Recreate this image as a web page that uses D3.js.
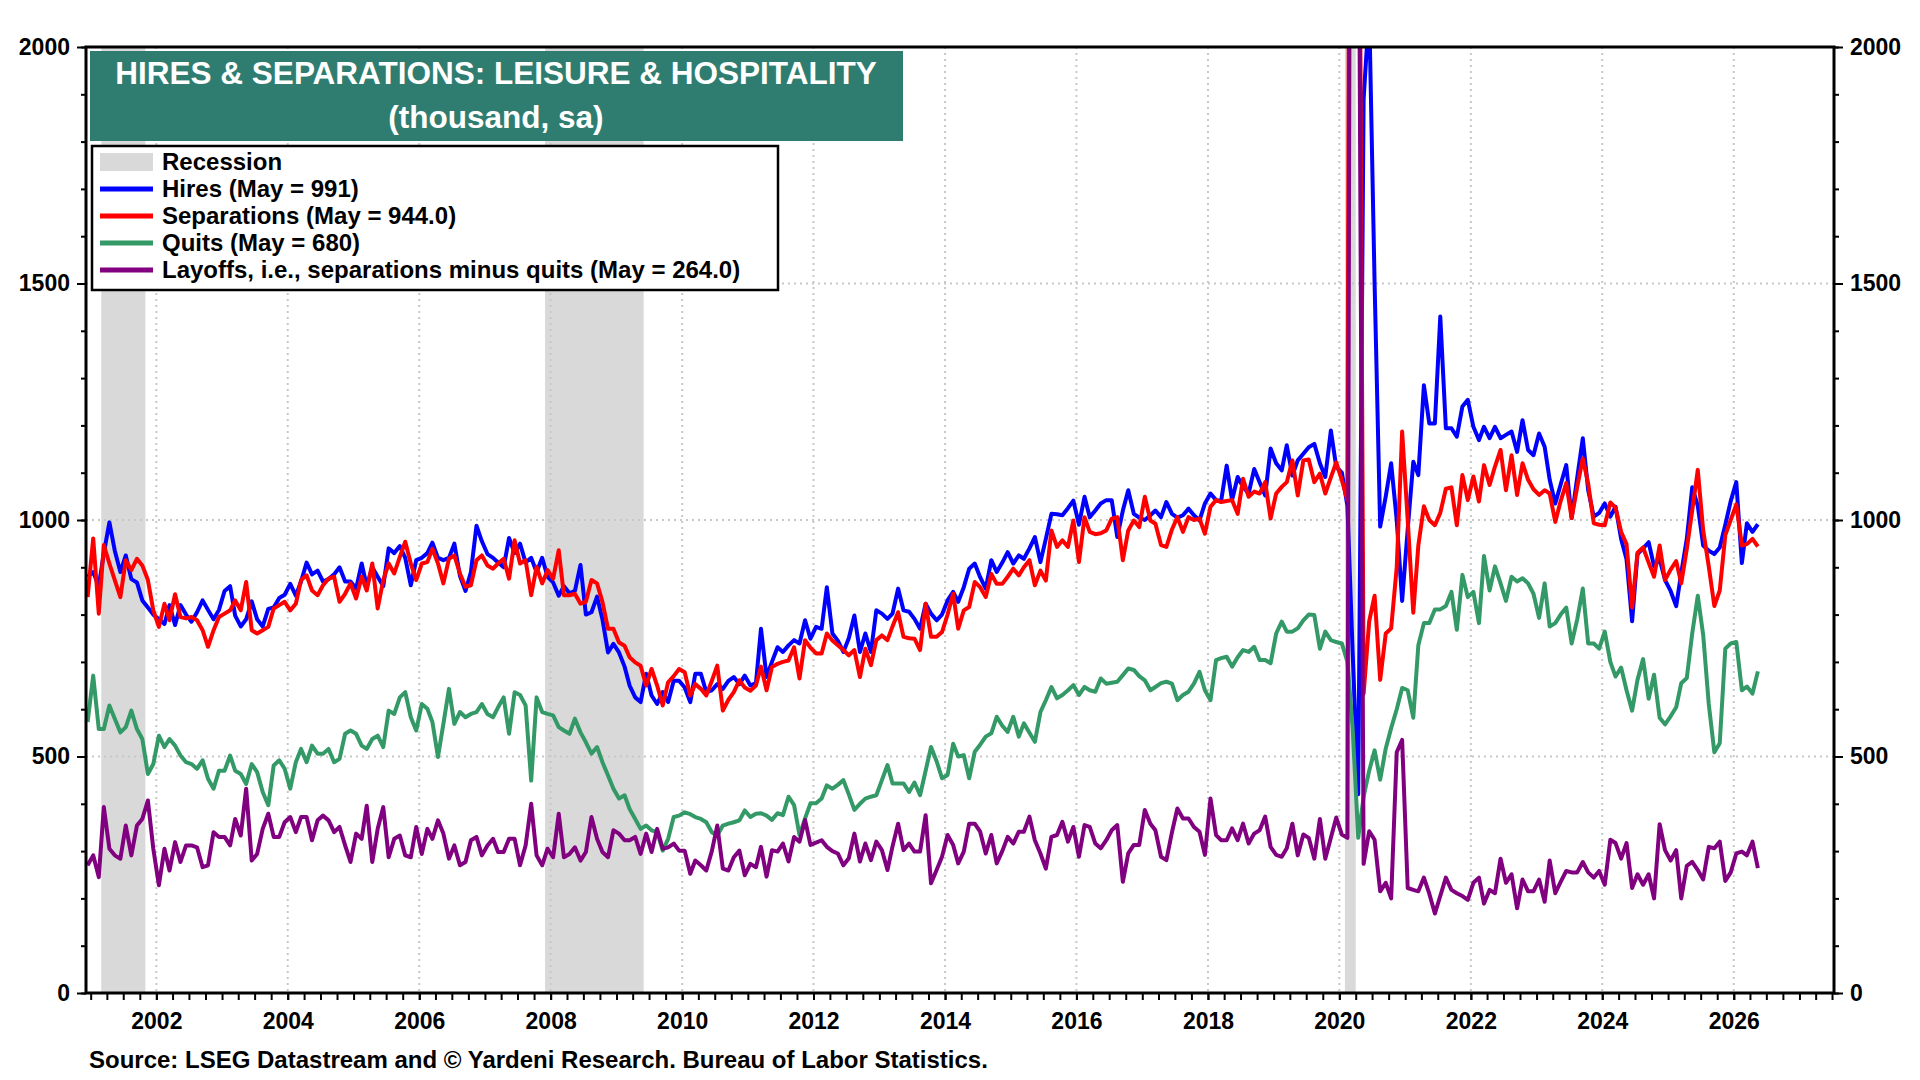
<!DOCTYPE html>
<html>
<head>
<meta charset="utf-8">
<script src="https://cdn.jsdelivr.net/npm/d3@7"></script>
<style>
  body { margin: 0; background: #fff; }
  svg { display: block; }
  text { font-family: "Liberation Sans", Arial, sans-serif; font-weight: bold; }
</style>
</head>
<body>
<svg id="chart" width="1920" height="1080"></svg>
<script>
// monthly data, Dec 2000 .. May 2026 (thousands, sa)
var startMonth = [2000, 11];

var hires = [
  880,
  890, 860, 930, 995, 935, 890, 925, 875, 868, 830, 815, 800,
  790, 780, 820, 778, 820, 800, 785, 805, 830, 810, 790, 810,
  850, 860, 798, 775, 790, 828, 790, 775, 812, 815, 835, 842,
  865, 840, 870, 910, 885, 893, 870, 875, 885, 900, 870, 870,
  855, 908, 860, 900, 880, 860, 940, 930, 945, 920, 862, 915,
  920, 930, 952, 920, 915, 920, 950, 882, 850, 890, 988, 955,
  928, 920, 910, 900, 962, 930, 950, 910, 920, 890, 920, 880,
  868, 840, 860, 845, 850, 905, 800, 805, 838, 790, 720, 738,
  720, 690, 650, 625, 615, 675, 629, 611, 636, 615, 660, 660,
  646, 615, 675, 675, 636, 640, 653, 643, 660, 668, 653, 671,
  650, 655, 770, 668, 700, 731, 721, 735, 746, 739, 788, 749,
  774, 770, 858, 760, 745, 721, 750, 798, 721, 760, 721, 809,
  802, 791, 802, 855, 809, 806, 791, 770, 823, 802, 788, 800,
  830, 848, 827, 858, 897, 908, 879, 855, 915, 890, 910, 932,
  908, 925, 918, 940, 964, 911, 960, 1013, 1012, 1010, 1025, 1041,
  990, 1049, 1006, 1020, 1035, 1042, 1042, 964, 1020, 1063, 1013, 1005,
  1000, 1010, 1020, 1006, 1038, 1013, 1005, 1010, 1024, 1010, 999, 1035,
  1056, 1042, 1040, 1115, 1042, 1091, 1070, 1056, 1108, 1080, 1052, 1151,
  1120, 1105, 1158, 1094, 1126, 1140, 1154, 1161, 1120, 1091, 1189, 1112,
  1100, 1030, 720, 420, 1890, 2080, 1500, 986, 1050, 1120, 1000, 829,
  980, 1123, 1095, 1285, 1204, 1204, 1430, 1194, 1194, 1176, 1240, 1254,
  1197, 1169, 1197, 1173, 1197, 1173, 1180, 1187, 1144, 1211, 1148, 1137,
  1183, 1155, 1085, 1035, 1075, 1116, 1004, 1090, 1173, 1063, 1007, 1015,
  1035, 1007, 1028, 960, 917, 786, 928, 940, 953, 902, 917, 873,
  850, 818, 888, 960, 1069, 1030, 946, 935, 928, 942, 990, 1040,
  1080, 909, 993, 975, 991
];

var separations = [
  837,
  961, 802, 947, 908, 873, 837, 915, 894, 918, 904, 873, 809,
  774, 823, 788, 843, 795, 792, 795, 788, 767, 732, 767, 795,
  802, 809, 830, 809, 869, 767, 760, 767, 774, 813, 820, 827,
  809, 823, 873, 883, 851, 841, 862, 876, 880, 827, 844, 866,
  834, 880, 851, 908, 813, 873, 908, 887, 922, 954, 908, 873,
  908, 911, 939, 908, 866, 918, 925, 887, 859, 862, 915, 925,
  904, 897, 908, 918, 876, 957, 908, 915, 841, 901, 866, 894,
  876, 936, 841, 841, 844, 823, 827, 873, 866, 827, 770, 770,
  741, 734, 710, 699, 692, 650, 685, 650, 608, 657, 670, 685,
  678, 629, 653, 643, 629, 660, 692, 597, 620, 636, 661, 646,
  639, 650, 690, 640, 689, 696, 700, 703, 731, 665, 746, 730,
  718, 718, 760, 745, 735, 725, 714, 725, 668, 728, 693, 746,
  756, 746, 775, 805, 753, 750, 749, 725, 823, 753, 753, 763,
  800, 844, 770, 809, 816, 869, 858, 837, 886, 865, 865, 880,
  897, 883, 900, 915, 862, 893, 872, 978, 943, 957, 943, 999,
  911, 1006, 975, 970, 972, 978, 1003, 1006, 915, 978, 999, 985,
  1049, 999, 992, 947, 943, 980, 1006, 975, 1006, 1000, 1003, 971,
  1028, 1042, 1038, 1040, 1042, 1013, 1087, 1049, 1060, 1056, 1080, 1003,
  1056, 1070, 1080, 1126, 1052, 1126, 1128, 1080, 1098, 1056, 1090, 1122,
  1084, 1042, 5000, 2900, 633, 786, 840, 662, 760, 771, 900, 1187,
  1000, 804, 946, 1029, 1000, 989, 1015, 1066, 1069, 989, 1095, 1042,
  1092, 1039, 1116, 1074, 1113, 1148, 1063, 1137, 1053, 1120, 1085, 1065,
  1053, 1063, 1056, 996, 1040, 1078, 1004, 1070, 1130, 1077, 993, 990,
  989, 1037, 1026, 975, 949, 815, 931, 942, 910, 880, 946, 873,
  895, 913, 866, 939, 1020, 1106, 978, 902, 818, 851, 968, 1000,
  1033, 946, 949, 960, 944
];

var quits = [
  573,
  671, 558, 558, 608, 580, 551, 562, 597, 558, 537, 463, 484,
  544, 520, 537, 523, 502, 488, 484, 474, 492, 453, 432, 470,
  470, 502, 470, 463, 442, 484, 467, 425, 397, 481, 492, 474,
  432, 488, 516, 488, 523, 506, 506, 516, 488, 495, 548, 555,
  548, 523, 516, 537, 544, 520, 597, 590, 625, 636, 583, 555,
  611, 601, 573, 499, 569, 643, 569, 594, 583, 590, 594, 611,
  590, 583, 604, 625, 548, 636, 630, 608, 449, 625, 594, 590,
  587, 562, 555, 548, 580, 551, 530, 506, 520, 488, 460, 432,
  411, 418, 389, 368, 347, 354, 344, 340, 301, 326, 372, 375,
  382, 378, 372, 368, 361, 340, 333, 354, 358, 361, 365, 386,
  372, 379, 380, 375, 366, 380, 376, 415, 397, 334, 369, 401,
  401, 411, 439, 432, 440, 450, 420, 387, 400, 411, 415, 418,
  450, 482, 443, 443, 443, 425, 445, 418, 470, 520, 490, 454,
  461, 527, 500, 503, 454, 510, 525, 542, 549, 584, 565, 552,
  584, 542, 570, 550, 531, 594, 619, 647, 623, 630, 640, 651,
  630, 647, 640, 637, 665, 654, 656, 658, 672, 686, 683, 670,
  661, 640, 647, 655, 658, 654, 619, 630, 637, 654, 679, 640,
  619, 704, 708, 711, 690, 710, 725, 721, 732, 704, 704, 697,
  760, 785, 764, 764, 771, 788, 800, 799, 728, 764, 746, 742,
  739, 700, 560, 328, 415, 470, 513, 451, 517, 560, 600, 645,
  640, 582, 735, 782, 782, 811, 811, 818, 848, 768, 884, 837,
  848, 782, 924, 851, 902, 866, 829, 880, 870, 877, 866, 844,
  793, 866, 775, 782, 800, 815, 739, 790, 855, 739, 739, 728,
  764, 700, 669, 688, 640, 597, 662, 706, 622, 673, 582, 568,
  585, 604, 655, 666, 760, 840, 757, 611, 509, 528, 728, 739,
  742, 640, 648, 633, 680
];

var layoffs = [
  270,
  291, 245, 393, 305, 291, 284, 354, 291, 354, 368, 407, 305,
  228, 305, 259, 319, 277, 312, 312, 308, 266, 270, 340, 330,
  330, 312, 368, 333, 432, 280, 294, 347, 379, 330, 330, 361,
  372, 340, 372, 372, 323, 365, 375, 365, 340, 351, 312, 277,
  337, 326, 396, 277, 347, 393, 287, 326, 333, 291, 287, 351,
  294, 347, 326, 365, 337, 284, 312, 270, 277, 323, 330, 291,
  312, 326, 298, 298, 326, 326, 270, 312, 400, 291, 270, 305,
  287, 379, 287, 294, 308, 280, 298, 372, 326, 298, 287, 344,
  337, 323, 323, 330, 294, 337, 298, 347, 305, 308, 316, 301,
  301, 252, 280, 270, 259, 300, 354, 263, 259, 287, 301, 249,
  273, 266, 309, 246, 302, 299, 316, 278, 330, 320, 366, 313,
  318, 323, 309, 300, 295, 270, 285, 337, 278, 316, 281, 320,
  302, 260, 310, 358, 302, 316, 299, 299, 376, 232, 260, 288,
  334, 313, 274, 299, 358, 358, 341, 295, 334, 274, 300, 330,
  316, 341, 341, 373, 323, 295, 263, 330, 334, 362, 320, 351,
  288, 355, 351, 316, 306, 323, 344, 355, 235, 295, 313, 313,
  387, 358, 344, 288, 281, 340, 390, 369, 369, 351, 341, 292,
  411, 334, 323, 323, 348, 323, 358, 316, 337, 344, 373, 309,
  292, 288, 306, 358, 291, 335, 328, 284, 368, 284, 328, 371,
  335, 328, 4800, 2600, 273, 342, 324, 215, 233, 200, 509, 535,
  222, 218, 215, 244, 210, 168, 205, 244, 218, 211, 205, 197,
  233, 244, 189, 218, 211, 284, 233, 251, 179, 240, 215, 215,
  240, 193, 280, 211, 235, 258, 255, 255, 277, 255, 244, 258,
  229, 324, 317, 284, 317, 222, 251, 229, 251, 200, 357, 302,
  280, 302, 200, 269, 277, 260, 240, 309, 306, 320, 237, 255,
  295, 299, 291, 320, 264
];

var recessions = [["2001-03", "2001-11"], ["2007-12", "2009-06"], ["2020-02", "2020-04"]];
var yTicksMajor = [0, 500, 1000, 1500, 2000];
var yGrid = [500, 1000, 1500];
var xLabelYears = [2002, 2004, 2006, 2008, 2010, 2012, 2014, 2016, 2018, 2020, 2022, 2024, 2026];

var seriesNames = ["Hires (May = 991)", "Separations (May = 944.0)", "Quits (May = 680)",
  "Layoffs, i.e., separations minus quits (May = 264.0)"];
var seriesColors = ["#0000ff", "#ff0000", "#339966", "#800080"];

var titleLines = ["HIRES & SEPARATIONS: LEISURE & HOSPITALITY", "(thousand, sa)"];
var sourceText = "Source: LSEG Datastream and \u00A9 Yardeni Research. Bureau of Labor Statistics.";

// layout
var plotLeft = 86, plotRight = 1834, plotTop = 47, plotBottom = 993;

var svg = d3.select("#chart");
svg.append("rect").attr("width", 1920).attr("height", 1080).attr("fill", "#fff");

var x = d3.scaleTime()
  .domain([new Date(2000, 11, 6), new Date(2027, 6, 12)])
  .range([plotLeft, plotRight]);
var y = d3.scaleLinear().domain([0, 2000]).range([plotBottom, plotTop]);

var parseMonth = d3.timeParse("%Y-%m");
var monthDate = i => new Date(startMonth[0], startMonth[1] + i, 15);

// recession shading
svg.selectAll(".rec")
  .data(recessions)
  .enter()
  .append("rect")
  .attr("x", d => x(parseMonth(d[0])))
  .attr("width", d => x(parseMonth(d[1])) - x(parseMonth(d[0])))
  .attr("y", plotTop)
  .attr("height", plotBottom - plotTop)
  .attr("fill", "#d9d9d9");

// grid
var grid = svg.append("g").attr("stroke", "#c8c8c8").attr("stroke-width", 2).attr("stroke-dasharray", "2,4");
grid.selectAll(".vg")
  .data(xLabelYears)
  .enter()
  .append("line")
  .attr("x1", d => x(new Date(d, 0, 1)))
  .attr("x2", d => x(new Date(d, 0, 1)))
  .attr("y1", plotTop)
  .attr("y2", plotBottom);
grid.selectAll(".hg")
  .data(yGrid)
  .enter()
  .append("line")
  .attr("x1", plotLeft)
  .attr("x2", plotRight)
  .attr("y1", d => y(d))
  .attr("y2", d => y(d));

// lines
svg.append("clipPath").attr("id", "plotclip")
  .append("rect")
  .attr("x", plotLeft).attr("y", plotTop)
  .attr("width", plotRight - plotLeft).attr("height", plotBottom - plotTop);

var line = d3.line()
  .x((d, i) => x(monthDate(i)))
  .y(d => y(d));

var allSeries = [hires, separations, quits, layoffs];
svg.append("g")
  .attr("clip-path", "url(#plotclip)")
  .selectAll("path")
  .data(allSeries)
  .enter()
  .append("path")
  .attr("d", d => line(d))
  .attr("fill", "none")
  .attr("stroke", (d, i) => seriesColors[i])
  .attr("stroke-width", 4)
  .attr("stroke-linejoin", "round");

// frame
svg.append("rect")
  .attr("x", plotLeft).attr("y", plotTop)
  .attr("width", plotRight - plotLeft).attr("height", plotBottom - plotTop)
  .attr("fill", "none")
  .attr("stroke", "#000")
  .attr("stroke-width", 3);

// axes
function styleAxis(g) {
  g.select(".domain").remove();
  g.selectAll(".tick line").attr("stroke-width", 2);
  g.selectAll("text")
    .style("font-family", '"Liberation Sans", Arial, sans-serif')
    .style("font-weight", "bold")
    .style("font-size", "23px")
    .attr("fill", "#000");
}

var minorY = d3.range(0, 2001, 100);
svg.append("g").attr("transform", `translate(${plotLeft},0)`)
  .call(d3.axisLeft(y).tickValues(minorY).tickSize(5).tickFormat(""))
  .call(styleAxis);
svg.append("g").attr("transform", `translate(${plotLeft},0)`)
  .call(d3.axisLeft(y).tickValues(yTicksMajor).tickSize(9).tickPadding(7).tickFormat(d3.format("d")))
  .call(styleAxis);
svg.append("g").attr("transform", `translate(${plotRight},0)`)
  .call(d3.axisRight(y).tickValues(minorY).tickSize(5).tickFormat(""))
  .call(styleAxis);
svg.append("g").attr("transform", `translate(${plotRight},0)`)
  .call(d3.axisRight(y).tickValues(yTicksMajor).tickSize(9).tickPadding(7).tickFormat(d3.format("d")))
  .call(styleAxis);

var quarters = d3.timeMonth.every(3).range(new Date(2001, 0, 1), new Date(2027, 6, 2));
svg.append("g").attr("transform", `translate(0,${plotBottom})`)
  .call(d3.axisBottom(x).tickValues(quarters).tickSize(7).tickFormat(""))
  .call(styleAxis);
svg.append("g").attr("transform", `translate(0,${plotBottom})`)
  .call(d3.axisBottom(x).tickValues(xLabelYears.map(d => new Date(d, 0, 1)))
    .tickSize(7).tickPadding(13).tickFormat(d3.timeFormat("%Y")))
  .call(styleAxis);

// title box
svg.append("rect")
  .attr("x", 90).attr("y", 51).attr("width", 813).attr("height", 90)
  .attr("fill", "#2e7d70");
svg.selectAll(".title")
  .data(titleLines)
  .enter()
  .append("text")
  .attr("x", 496)
  .attr("y", (d, i) => 84 + i * 44)
  .attr("text-anchor", "middle")
  .attr("fill", "#fff")
  .style("font-size", "31.5px")
  .text(d => d);

// legend
var legend = svg.append("g");
legend.append("rect")
  .attr("x", 92).attr("y", 146).attr("width", 686).attr("height", 144)
  .attr("fill", "#fff").attr("stroke", "#000").attr("stroke-width", 2.5);
legend.append("rect")
  .attr("x", 100).attr("y", 153).attr("width", 53).attr("height", 18)
  .attr("fill", "#d9d9d9");
legend.append("text")
  .attr("x", 162).attr("y", 170)
  .style("font-size", "24px")
  .text("Recession");
legend.selectAll(".lg")
  .data(seriesNames)
  .enter()
  .append("line")
  .attr("x1", 100).attr("x2", 153)
  .attr("y1", (d, i) => 189 + i * 27)
  .attr("y2", (d, i) => 189 + i * 27)
  .attr("stroke", (d, i) => seriesColors[i])
  .attr("stroke-width", 5);
legend.selectAll(".lt")
  .data(seriesNames)
  .enter()
  .append("text")
  .attr("x", 162)
  .attr("y", (d, i) => 197 + i * 27)
  .style("font-size", "24px")
  .text(d => d);

// source
svg.append("text")
  .attr("x", 89).attr("y", 1068)
  .style("font-size", "24px")
  .text(sourceText);
</script>
</body>
</html>
